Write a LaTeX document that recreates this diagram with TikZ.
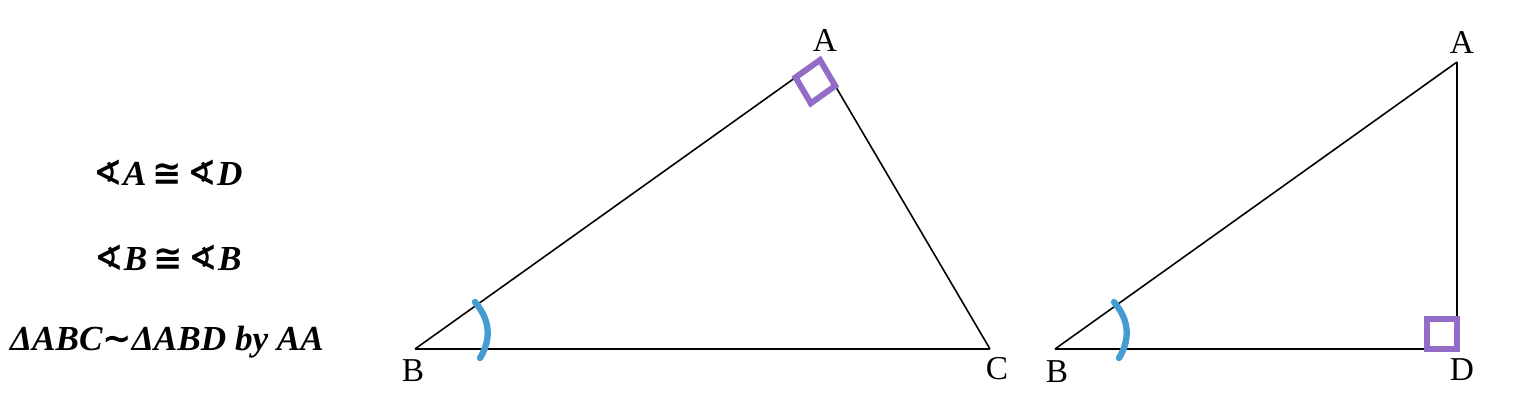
\documentclass[tikz,border=0pt]{standalone}
\usepackage{fontspec}
\setmainfont{Liberation Serif}
\newfontfamily\symfont{DejaVu Sans}
\usetikzlibrary{calc}
\definecolor{markpurple}{RGB}{146,108,198}
\definecolor{markblue}{RGB}{70,155,210}
\def\ang{{\symfont\bfseries ∢}}
\def\cong{\,{\symfont\bfseries ≅}\,}
\def\simil{{\symfont\bfseries ∼}}
\tikzset{side/.style={line width=0.9pt},
  rightmark/.style={markpurple, line width=3.4pt},
  arcmark/.style={markblue, line width=3.6pt, line cap=round},
  vlabel/.style={font=\fontsize{19}{22}\selectfont},
  stmt/.style={font=\fontsize{20}{24}\selectfont\bfseries\itshape}}

\begin{document}
\begin{tikzpicture}[x=0.2mm,y=0.2mm]
\useasboundingbox (0,0) rectangle (1536,406);
% statements
\node[stmt] (s1) at (168,233) {\ang A\cong\ang D};
\node[stmt] (s2) at (168,148) {\ang B\cong\ang B};
\node[stmt] (s3) at (167,64) {ΔABC\simil ΔABD by AA};
% triangle ABC
\coordinate (A1) at (820,346);
\coordinate (B1) at (415,57);
\coordinate (C1) at (990,57);
\node[vlabel] (a1) at (825,366) {A};
\node[vlabel] (b1) at (413,35) {B};
\node[vlabel] (c1) at (997,37) {C};
\draw[side] (A1)--(B1);
\draw[side] (B1)--(C1);
\draw[side] (C1)--(A1);
\coordinate (A1p) at ($(A1)!6mm!(B1)$);
\coordinate (A1q) at ($(A1)!6mm!(C1)$);
\draw[rightmark] (A1)--(A1p)--($(A1p)+(A1q)-(A1)$)--(A1q)--cycle;
\draw[arcmark] (475,104) .. controls (491,85) and (491,66) .. (480,48);
% triangle ABD
\coordinate (A2) at (1457,344);
\coordinate (B2) at (1055,57);
\coordinate (D2) at (1457,57);
\node[vlabel] (a2) at (1462,364) {A};
\node[vlabel] (b2) at (1057,34) {B};
\node[vlabel] (d2) at (1462,36) {D};
\draw[side] (A2)--(B2);
\draw[side] (B2)--(D2);
\draw[side] (D2)--(A2);
\draw[rightmark] (D2)--++(-30,0)--++(0,30)--++(30,0)--cycle;
\draw[arcmark] (1114,104) .. controls (1130,85) and (1130,66) .. (1119,48);
\end{tikzpicture}
\end{document}
